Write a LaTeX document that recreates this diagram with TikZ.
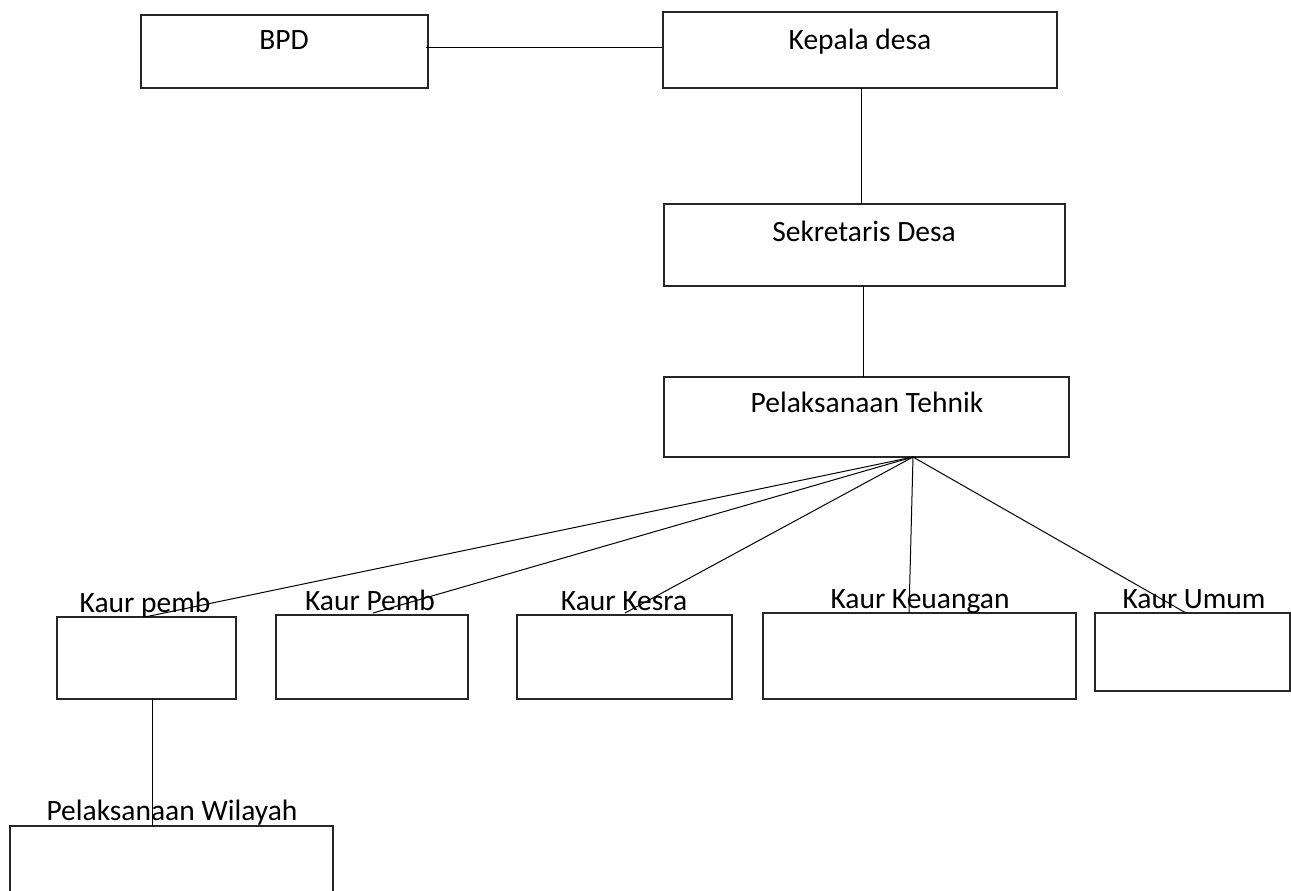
\documentclass[tikz,border=0pt]{standalone}
\usepackage{fontspec}
\setmainfont{Carlito}
\begin{document}
\begin{tikzpicture}[x=1pt,y=-1pt,
  box/.style={draw=black!85,line width=1.3pt,anchor=north west,inner sep=0pt,outer sep=0pt},
  txt/.style={anchor=base,inner sep=0pt,font=\fontsize{29.5}{35}\selectfont},
  conn/.style={draw=black,line width=1pt}]
\clip (0,0) rectangle (1291,891);
\fill[white] (0,0) rectangle (1291,891);
% boxes
\node[box,minimum width=287pt,minimum height=73pt] (bpd) at (141,15) {};
\node[box,minimum width=394pt,minimum height=76pt] (kepala) at (663,12) {};
\node[box,minimum width=401pt,minimum height=82pt] (sekre) at (664,204) {};
\node[box,minimum width=405pt,minimum height=80pt] (tehnik) at (664,377) {};
\node[box,minimum width=179pt,minimum height=82pt] (k1) at (57,617) {};
\node[box,minimum width=192pt,minimum height=84pt] (k2) at (276,615) {};
\node[box,minimum width=215pt,minimum height=84pt] (k3) at (517,615) {};
\node[box,minimum width=313pt,minimum height=86pt] (k4) at (763,613) {};
\node[box,minimum width=195pt,minimum height=78pt] (k5) at (1095,613) {};
\node[box,minimum width=323pt,minimum height=100pt] (wil) at (10,826) {};
% texts
\node[txt] (tbpd) at (284,50) {BPD};
\node[txt] (tkep) at (860,50) {Kepala desa};
\node[txt] (tsek) at (864,241) {Sekretaris Desa};
\node[txt] (tteh) at (867,412) {Pelaksanaan Tehnik};
\node[txt] (tk1) at (145,612) {Kaur pemb};
\node[txt] (tk2) at (370,610) {Kaur Pemb};
\node[txt] (tk3) at (624,610) {Kaur Kesra};
\node[txt] (tk4) at (920,608) {Kaur Keuangan};
\node[txt] (tk5) at (1194,608) {Kaur Umum};
\node[txt] (twil) at (172,820) {Pelaksanaan Wilayah};
% connectors
\coordinate (c1) at (426,48);
\draw[conn] (c1) -- (c1 -| kepala.west);
\coordinate (c2) at (861,88);
\draw[conn] (c2) -- (c2 |- sekre.north);
\coordinate (c3) at (863,286);
\draw[conn] (c3) -- (c3 |- tehnik.north);
\coordinate (fan) at (913,457);
\coordinate (e1) at (145,617);
\coordinate (e2) at (373,613);
\coordinate (e3) at (625,613);
\coordinate (e4) at (909,613);
\coordinate (e5) at (1186,613);
\draw[conn] (fan) -- (e1);
\draw[conn] (fan) -- (e2);
\draw[conn] (fan) -- (e3);
\draw[conn] (fan) -- (e4);
\draw[conn] (fan) -- (e5);
\coordinate (c4) at (152,699);
\draw[conn] (c4) -- (c4 |- wil.north);
\end{tikzpicture}
\end{document}
